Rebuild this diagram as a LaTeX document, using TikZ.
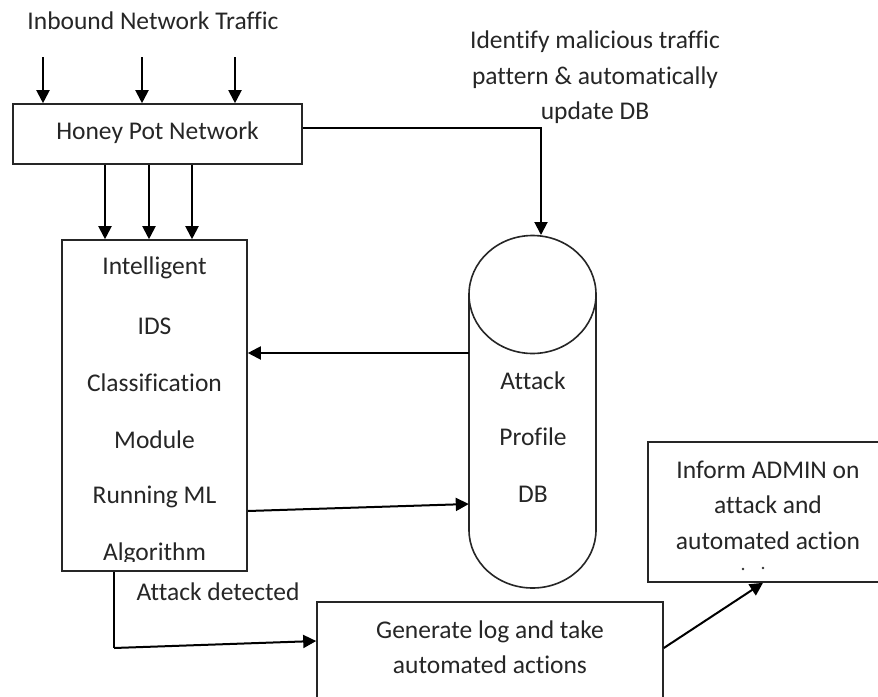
\documentclass[tikz,border=0pt]{standalone}
\usepackage{fontspec}
\setmainfont{Carlito}[Ligatures=NoCommon]
\usetikzlibrary{arrows.meta,calc}
\begin{document}
\begin{tikzpicture}[x=1pt,y=-1pt,
  ink/.style={draw=black!85, line width=1.6pt},
  box/.style={ink, rectangle, inner sep=0pt},
  lbl/.style={font=\fontsize{25.5}{28}\selectfont, text=black!85, inner sep=0pt},
  arr/.style={draw=black, line width=2pt, -{Triangle[length=13pt,width=13pt]}},
  wire/.style={draw=black, line width=2pt}]
  \clip (0,0) rectangle (878,696);
  \fill[white] (0,0) rectangle (878,696);

  % boxes
  \node[box, minimum width=289, minimum height=60] (honey) at (157.5,134) {};
  \node[lbl] at (157.5,133) {Honey Pot Network};
  \node[box, minimum width=185, minimum height=331] (ids) at (154.5,405.5) {};
  \node[box, minimum width=346, minimum height=108] (gen) at (490,656) {};
  \node[box, minimum width=242, minimum height=140] (inform) at (769,512) {};

  % attack profile database
  \node[inner sep=0pt, minimum width=127, minimum height=353] (db) at (532.5,411.5) {};
  \draw[ink] (469,296) -- (469,530) arc[start angle=180, end angle=0, x radius=63.5, y radius=58] -- (596,296);
  \draw[ink, fill=white] (532.5,294.5) ellipse[x radius=63.5, y radius=59];

  % texts
  \node[lbl] at (153,21) {Inbound Network Traffic};
  \node[lbl] at (595,42) {Identify malicious traffic};
  \node[lbl] at (595,78) {pattern \& automatically};
  \node[lbl] at (595,113) {update DB};
  \begin{scope}
    \clip (ids.north west) rectangle (247,561);
    \node[lbl] at (154.5,268) {Intelligent};
    \node[lbl] at (154.5,326) {IDS};
    \node[lbl] at (154.5,383) {Classification};
    \node[lbl] at (154.5,440) {Module};
    \node[lbl] at (154.5,497) {Running ML};
    \node[lbl] at (154.5,554) {Algorithm};
  \end{scope}
  \node[lbl] at (533,381) {Attack};
  \node[lbl] at (533,437) {Profile};
  \node[lbl] at (533,494) {DB};
  \node[lbl] at (218,592) {Attack detected};
  \node[lbl] at (490,632) {Generate log and take};
  \node[lbl] at (490,665) {automated actions};
  \node[lbl] at (768,470) {Inform ADMIN on};
  \node[lbl] at (768,505) {attack and};
  \node[lbl] at (768,541) {automated action};
  \fill[black!80] (743,569) circle[radius=1.4] (763,568) circle[radius=1.4];

  % inbound traffic
  \foreach \xx in {43,142,235}
    \draw[arr] (\xx,57) -- (honey.north -| \xx,0);
  % honeypot to IDS
  \foreach \xx in {105,149,192}
    \draw[arr] (honey.south -| \xx,0) -- (ids.north -| \xx,0);
  % honeypot updates the database
  \draw[arr] ([yshift=6pt]honey.east) -| (541,235);
  % database to IDS and back
  \draw[arr] (db.west |- 0,353) -- (ids.east |- 0,353);
  \draw[arr] (ids.east |- 0,511) -- (db.west |- 0,504);
  % attack detected
  \coordinate (bend) at (114,648);
  \draw[wire] (ids.south -| bend) -- (bend);
  \draw[arr] (bend) -- (gen.west |- 0,641);
  % inform the admin
  \draw[arr] (gen.east |- 0,648) -- (inform.south -| 763,0);
\end{tikzpicture}
\end{document}
